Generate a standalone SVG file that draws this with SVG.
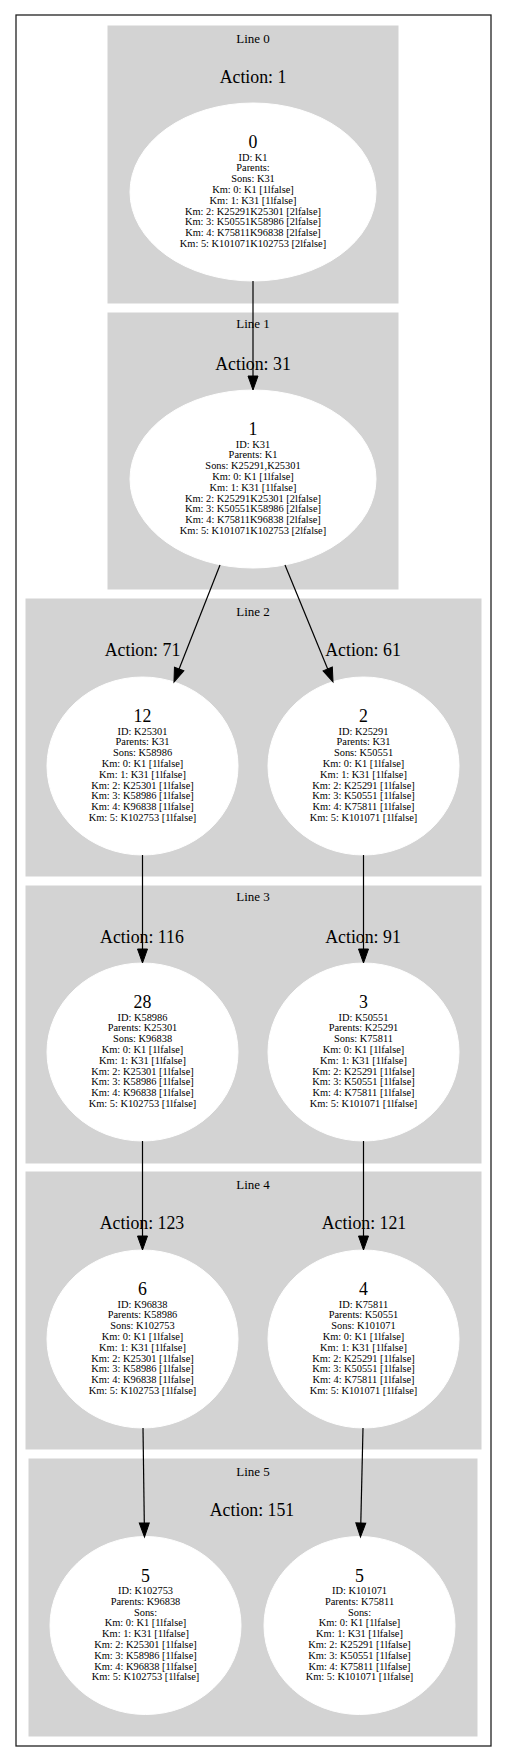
<svg xmlns="http://www.w3.org/2000/svg" width="507" height="1762" viewBox="0 0 507 1762">
<style>
.cl{fill:#d3d3d3;stroke:#d3d3d3}
.nd{fill:#fff;stroke:#fff}
text{font-family:"Liberation Serif","Times New Roman",serif;fill:#000;text-anchor:middle}
.ct{font-size:13px}
.big{font-size:17.8px}
.sm{font-size:10.4px}
.e{stroke:#000;stroke-width:1.2;fill:none;marker-end:url(#ah)}
</style>
<defs>
<marker id="ah" markerUnits="userSpaceOnUse" markerWidth="14" markerHeight="10" refX="0" refY="5" orient="auto" overflow="visible">
<path d="M0,0 L14,5 L0,10 z" fill="#000" stroke="#000"/>
</marker>
</defs>
<rect x="0" y="0" width="507" height="1762" fill="#fff"/>
<rect x="16" y="15" width="475" height="1731" fill="none" stroke="#222" stroke-width="1.3"/>
<g id="clusters">
<rect class="cl" x="108" y="26" width="290" height="277"/>
<text class="ct" x="253" y="43.3">Line 0</text>
<rect class="cl" x="108" y="313" width="290" height="276"/>
<text class="ct" x="253" y="328.3">Line 1</text>
<rect class="cl" x="26" y="599" width="455" height="277"/>
<text class="ct" x="253" y="616.3">Line 2</text>
<rect class="cl" x="26" y="886" width="455" height="277"/>
<text class="ct" x="253" y="901.3">Line 3</text>
<rect class="cl" x="26" y="1172" width="455" height="277"/>
<text class="ct" x="253" y="1189.3">Line 4</text>
<rect class="cl" x="29" y="1459" width="448" height="277"/>
<text class="ct" x="253" y="1476.3">Line 5</text>
<text class="big" x="253" y="83">Action: 1</text>
<text class="big" x="253" y="370">Action: 31</text>
<text class="big" x="142.5" y="656">Action: 71</text>
<text class="big" x="363" y="656">Action: 61</text>
<text class="big" x="142" y="943">Action: 116</text>
<text class="big" x="363" y="943">Action: 91</text>
<text class="big" x="142" y="1229">Action: 123</text>
<text class="big" x="364" y="1229">Action: 121</text>
<text class="big" x="252" y="1516">Action: 151</text>
</g>
<g id="node0">
<ellipse class="nd" cx="253" cy="192" rx="123" ry="89"/>
<text class="big" x="253" y="148">0</text>
<text class="sm" x="253"><tspan x="253" y="160.5">ID: K1</tspan><tspan x="253" dy="10.8">Parents:</tspan><tspan x="253" dy="10.8">Sons: K31</tspan><tspan x="253" dy="10.8">Km: 0: K1 [1lfalse]</tspan><tspan x="253" dy="10.8">Km: 1: K31 [1lfalse]</tspan><tspan x="253" dy="10.8">Km: 2: K25291K25301 [2lfalse]</tspan><tspan x="253" dy="10.8">Km: 3: K50551K58986 [2lfalse]</tspan><tspan x="253" dy="10.8">Km: 4: K75811K96838 [2lfalse]</tspan><tspan x="253" dy="10.8">Km: 5: K101071K102753 [2lfalse]</tspan></text>
</g>
<g id="node1">
<ellipse class="nd" cx="253" cy="479" rx="123" ry="89"/>
<text class="big" x="253" y="435">1</text>
<text class="sm" x="253"><tspan x="253" y="447.5">ID: K31</tspan><tspan x="253" dy="10.8">Parents: K1</tspan><tspan x="253" dy="10.8">Sons: K25291,K25301</tspan><tspan x="253" dy="10.8">Km: 0: K1 [1lfalse]</tspan><tspan x="253" dy="10.8">Km: 1: K31 [1lfalse]</tspan><tspan x="253" dy="10.8">Km: 2: K25291K25301 [2lfalse]</tspan><tspan x="253" dy="10.8">Km: 3: K50551K58986 [2lfalse]</tspan><tspan x="253" dy="10.8">Km: 4: K75811K96838 [2lfalse]</tspan><tspan x="253" dy="10.8">Km: 5: K101071K102753 [2lfalse]</tspan></text>
</g>
<g id="node12">
<ellipse class="nd" cx="142.5" cy="766" rx="95.5" ry="89"/>
<text class="big" x="142.5" y="722">12</text>
<text class="sm" x="142.5"><tspan x="142.5" y="734.5">ID: K25301</tspan><tspan x="142.5" dy="10.8">Parents: K31</tspan><tspan x="142.5" dy="10.8">Sons: K58986</tspan><tspan x="142.5" dy="10.8">Km: 0: K1 [1lfalse]</tspan><tspan x="142.5" dy="10.8">Km: 1: K31 [1lfalse]</tspan><tspan x="142.5" dy="10.8">Km: 2: K25301 [1lfalse]</tspan><tspan x="142.5" dy="10.8">Km: 3: K58986 [1lfalse]</tspan><tspan x="142.5" dy="10.8">Km: 4: K96838 [1lfalse]</tspan><tspan x="142.5" dy="10.8">Km: 5: K102753 [1lfalse]</tspan></text>
</g>
<g id="node2">
<ellipse class="nd" cx="363.5" cy="766" rx="95.5" ry="89"/>
<text class="big" x="363.5" y="722">2</text>
<text class="sm" x="363.5"><tspan x="363.5" y="734.5">ID: K25291</tspan><tspan x="363.5" dy="10.8">Parents: K31</tspan><tspan x="363.5" dy="10.8">Sons: K50551</tspan><tspan x="363.5" dy="10.8">Km: 0: K1 [1lfalse]</tspan><tspan x="363.5" dy="10.8">Km: 1: K31 [1lfalse]</tspan><tspan x="363.5" dy="10.8">Km: 2: K25291 [1lfalse]</tspan><tspan x="363.5" dy="10.8">Km: 3: K50551 [1lfalse]</tspan><tspan x="363.5" dy="10.8">Km: 4: K75811 [1lfalse]</tspan><tspan x="363.5" dy="10.8">Km: 5: K101071 [1lfalse]</tspan></text>
</g>
<g id="node28">
<ellipse class="nd" cx="142.5" cy="1052" rx="95.5" ry="89"/>
<text class="big" x="142.5" y="1008">28</text>
<text class="sm" x="142.5"><tspan x="142.5" y="1020.5">ID: K58986</tspan><tspan x="142.5" dy="10.8">Parents: K25301</tspan><tspan x="142.5" dy="10.8">Sons: K96838</tspan><tspan x="142.5" dy="10.8">Km: 0: K1 [1lfalse]</tspan><tspan x="142.5" dy="10.8">Km: 1: K31 [1lfalse]</tspan><tspan x="142.5" dy="10.8">Km: 2: K25301 [1lfalse]</tspan><tspan x="142.5" dy="10.8">Km: 3: K58986 [1lfalse]</tspan><tspan x="142.5" dy="10.8">Km: 4: K96838 [1lfalse]</tspan><tspan x="142.5" dy="10.8">Km: 5: K102753 [1lfalse]</tspan></text>
</g>
<g id="node3">
<ellipse class="nd" cx="363.5" cy="1052" rx="95.5" ry="89"/>
<text class="big" x="363.5" y="1008">3</text>
<text class="sm" x="363.5"><tspan x="363.5" y="1020.5">ID: K50551</tspan><tspan x="363.5" dy="10.8">Parents: K25291</tspan><tspan x="363.5" dy="10.8">Sons: K75811</tspan><tspan x="363.5" dy="10.8">Km: 0: K1 [1lfalse]</tspan><tspan x="363.5" dy="10.8">Km: 1: K31 [1lfalse]</tspan><tspan x="363.5" dy="10.8">Km: 2: K25291 [1lfalse]</tspan><tspan x="363.5" dy="10.8">Km: 3: K50551 [1lfalse]</tspan><tspan x="363.5" dy="10.8">Km: 4: K75811 [1lfalse]</tspan><tspan x="363.5" dy="10.8">Km: 5: K101071 [1lfalse]</tspan></text>
</g>
<g id="node6">
<ellipse class="nd" cx="142.5" cy="1339" rx="95.5" ry="89"/>
<text class="big" x="142.5" y="1295">6</text>
<text class="sm" x="142.5"><tspan x="142.5" y="1307.5">ID: K96838</tspan><tspan x="142.5" dy="10.8">Parents: K58986</tspan><tspan x="142.5" dy="10.8">Sons: K102753</tspan><tspan x="142.5" dy="10.8">Km: 0: K1 [1lfalse]</tspan><tspan x="142.5" dy="10.8">Km: 1: K31 [1lfalse]</tspan><tspan x="142.5" dy="10.8">Km: 2: K25301 [1lfalse]</tspan><tspan x="142.5" dy="10.8">Km: 3: K58986 [1lfalse]</tspan><tspan x="142.5" dy="10.8">Km: 4: K96838 [1lfalse]</tspan><tspan x="142.5" dy="10.8">Km: 5: K102753 [1lfalse]</tspan></text>
</g>
<g id="node4">
<ellipse class="nd" cx="363.5" cy="1339" rx="95.5" ry="89"/>
<text class="big" x="363.5" y="1295">4</text>
<text class="sm" x="363.5"><tspan x="363.5" y="1307.5">ID: K75811</tspan><tspan x="363.5" dy="10.8">Parents: K50551</tspan><tspan x="363.5" dy="10.8">Sons: K101071</tspan><tspan x="363.5" dy="10.8">Km: 0: K1 [1lfalse]</tspan><tspan x="363.5" dy="10.8">Km: 1: K31 [1lfalse]</tspan><tspan x="363.5" dy="10.8">Km: 2: K25291 [1lfalse]</tspan><tspan x="363.5" dy="10.8">Km: 3: K50551 [1lfalse]</tspan><tspan x="363.5" dy="10.8">Km: 4: K75811 [1lfalse]</tspan><tspan x="363.5" dy="10.8">Km: 5: K101071 [1lfalse]</tspan></text>
</g>
<g id="node5a">
<ellipse class="nd" cx="145.5" cy="1625.5" rx="95.5" ry="89"/>
<text class="big" x="145.5" y="1581.5">5</text>
<text class="sm" x="145.5"><tspan x="145.5" y="1594">ID: K102753</tspan><tspan x="145.5" dy="10.8">Parents: K96838</tspan><tspan x="145.5" dy="10.8">Sons:</tspan><tspan x="145.5" dy="10.8">Km: 0: K1 [1lfalse]</tspan><tspan x="145.5" dy="10.8">Km: 1: K31 [1lfalse]</tspan><tspan x="145.5" dy="10.8">Km: 2: K25301 [1lfalse]</tspan><tspan x="145.5" dy="10.8">Km: 3: K58986 [1lfalse]</tspan><tspan x="145.5" dy="10.8">Km: 4: K96838 [1lfalse]</tspan><tspan x="145.5" dy="10.8">Km: 5: K102753 [1lfalse]</tspan></text>
</g>
<g id="node5b">
<ellipse class="nd" cx="359.5" cy="1625.5" rx="95.5" ry="89"/>
<text class="big" x="359.5" y="1581.5">5</text>
<text class="sm" x="359.5"><tspan x="359.5" y="1594">ID: K101071</tspan><tspan x="359.5" dy="10.8">Parents: K75811</tspan><tspan x="359.5" dy="10.8">Sons:</tspan><tspan x="359.5" dy="10.8">Km: 0: K1 [1lfalse]</tspan><tspan x="359.5" dy="10.8">Km: 1: K31 [1lfalse]</tspan><tspan x="359.5" dy="10.8">Km: 2: K25291 [1lfalse]</tspan><tspan x="359.5" dy="10.8">Km: 3: K50551 [1lfalse]</tspan><tspan x="359.5" dy="10.8">Km: 4: K75811 [1lfalse]</tspan><tspan x="359.5" dy="10.8">Km: 5: K101071 [1lfalse]</tspan></text>
</g>
<g id="connectors">
<path class="e" d="M253,281 L253,376"/>
<path class="e" d="M220,565 L179.1,669"/>
<path class="e" d="M285,565 L327.7,669"/>
<path class="e" d="M142.5,855 L142.5,949"/>
<path class="e" d="M363.5,855 L363.5,949"/>
<path class="e" d="M142.5,1141 L142.5,1236"/>
<path class="e" d="M363.5,1141 L363.5,1236"/>
<path class="e" d="M143,1428 L144.3,1523"/>
<path class="e" d="M363,1428 L360.8,1523"/>
</g>
</svg>
